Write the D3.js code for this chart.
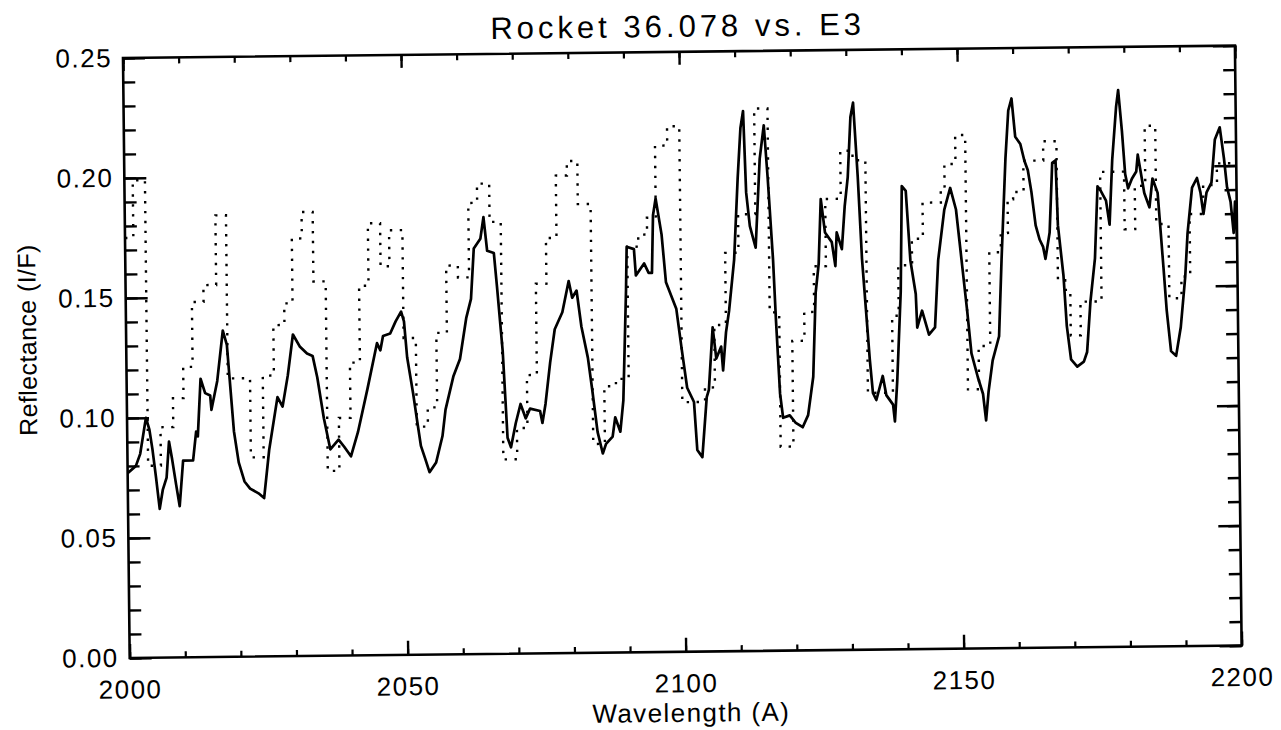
<!DOCTYPE html>
<html>
<head>
<meta charset="utf-8">
<script src="https://cdn.jsdelivr.net/npm/d3@7"></script>
<style>
  html, body { margin: 0; padding: 0; background: #fff; }
  svg { display: block; }
  text { font-family: "Liberation Sans", Arial, sans-serif; fill: #000; }
</style>
</head>
<body>
<svg id="chart" width="1281" height="730"></svg>
<script>
// ---- data ----
const chartTitle = "Rocket 36.078 vs. E3";
const xTitle = "Wavelength (A)";
const yTitle = "Reflectance (I/F)";
const xTickValues = [2000, 2050, 2100, 2150, 2200];
const yTickValues = [0.00, 0.05, 0.10, 0.15, 0.20, 0.25];

// Rocket 36.078 measured spectrum (solid line)
const rocketWavelength = [
2000.0,2001.5,2002.3,2003.4,2004.0,2004.5,2005.1,2005.7,2006.3,2007.0,2007.5,2008.0,2008.7,2009.3,2010.0,2011.8,2012.4,2012.7,2013.3,2014.1,
2015.0,2015.2,2016.3,2017.4,2018.1,2019.2,2020.0,2021.0,2022.0,2023.5,2024.5,2025.5,2027.1,2028.0,2029.0,2030.0,2031.2,2032.5,2033.5,2034.3,
2035.4,2036.5,2038.0,2039.0,2040.2,2041.5,2043.3,2045.1,2045.7,2046.2,2047.5,2048.5,2049.5,2050.0,2050.5,2051.5,2052.2,2052.8,2053.5,2054.3,
2055.5,2056.7,2057.3,2058.8,2060.0,2061.2,2062.1,2062.7,2063.9,2064.5,2065.1,2066.3,2066.8,2067.7,2068.4,2069.0,2069.9,2070.8,2071.7,2072.5,
2074.3,2074.7,2075.3,2076.2,2077.1,2078.5,2079.7,2080.3,2081.1,2081.9,2083.0,2083.7,2084.6,2085.5,2086.1,2087.3,2087.8,2088.7,2089.3,2090.0,
2090.2,2091.5,2091.8,2093.3,2094.1,2094.7,2095.0,2095.5,2096.5,2097.2,2099.0,2099.9,2100.8,2102.0,2102.5,2103.4,2104.3,2104.7,2105.5,2106.1,
2107.0,2107.3,2107.9,2108.5,2109.5,2110.3,2110.9,2111.4,2111.8,2112.4,2113.4,2114.3,2115.1,2115.7,2116.5,2116.9,2117.5,2118.0,2119.2,2120.2,
2121.5,2122.5,2123.5,2124.1,2124.7,2125.2,2125.9,2127.1,2127.7,2128.0,2128.9,2129.5,2130.1,2130.7,2131.2,2131.9,2132.5,2133.1,2133.7,2134.2,
2134.8,2136.0,2136.6,2137.8,2138.1,2138.6,2139.4,2139.8,2140.5,2141.2,2142.1,2142.3,2143.2,2144.4,2145.5,2146.2,2147.4,2148.5,2149.5,2150.4,
2151.3,2152.0,2153.1,2154.0,2154.5,2155.0,2155.8,2157.0,2157.6,2158.5,2159.1,2159.7,2160.3,2161.2,2161.9,2162.5,2163.1,2163.8,2164.5,2165.1,
2165.5,2166.3,2166.9,2167.5,2167.8,2168.7,2169.2,2169.9,2171.0,2172.2,2172.8,2173.5,2174.4,2175.0,2175.6,2176.5,2177.1,2177.7,2178.5,2178.9,
2179.5,2180.0,2180.5,2181.2,2182.0,2182.3,2183.4,2184.3,2184.9,2185.8,2186.7,2187.2,2187.9,2188.8,2189.7,2190.6,2191.1,2192.0,2192.9,2193.5,
2194.0,2194.6,2195.5,2196.2,2197.1,2197.8,2198.3,2198.9,2199.4,2199.7,2200.0
];
const rocketReflectance = [
0.077,0.080,0.085,0.100,0.095,0.087,0.075,0.062,0.070,0.075,0.090,0.083,0.072,0.063,0.082,0.082,0.094,0.092,0.116,0.110,
0.109,0.103,0.115,0.136,0.130,0.094,0.081,0.073,0.070,0.068,0.066,0.086,0.108,0.104,0.117,0.134,0.129,0.126,0.125,0.116,
0.099,0.086,0.090,0.087,0.083,0.093,0.111,0.130,0.127,0.133,0.134,0.139,0.143,0.139,0.124,0.109,0.097,0.087,0.082,0.076,
0.080,0.091,0.102,0.116,0.123,0.140,0.148,0.169,0.173,0.182,0.168,0.167,0.153,0.126,0.090,0.086,0.096,0.104,0.098,0.102,
0.101,0.096,0.104,0.121,0.135,0.142,0.155,0.148,0.151,0.136,0.123,0.110,0.092,0.083,0.087,0.090,0.098,0.092,0.105,0.151,
0.169,0.168,0.157,0.162,0.158,0.158,0.182,0.189,0.174,0.154,0.143,0.126,0.110,0.104,0.084,0.081,0.106,0.109,0.135,0.122,
0.127,0.117,0.133,0.142,0.163,0.197,0.218,0.225,0.191,0.177,0.168,0.205,0.219,0.197,0.163,0.138,0.107,0.097,0.098,0.095,
0.093,0.098,0.114,0.149,0.161,0.188,0.174,0.170,0.160,0.174,0.167,0.185,0.197,0.222,0.228,0.197,0.163,0.142,0.121,0.107,
0.104,0.114,0.106,0.102,0.095,0.112,0.149,0.193,0.191,0.162,0.148,0.134,0.141,0.131,0.134,0.162,0.183,0.192,0.183,0.162,
0.141,0.123,0.113,0.106,0.095,0.107,0.120,0.130,0.162,0.204,0.224,0.229,0.213,0.210,0.203,0.199,0.190,0.176,0.170,0.167,
0.162,0.173,0.202,0.203,0.176,0.155,0.134,0.120,0.117,0.119,0.123,0.144,0.162,0.192,0.190,0.186,0.176,0.203,0.225,0.232,
0.215,0.197,0.191,0.195,0.198,0.205,0.189,0.183,0.195,0.189,0.158,0.140,0.123,0.121,0.133,0.154,0.172,0.191,0.195,0.189,
0.180,0.189,0.193,0.211,0.216,0.203,0.191,0.185,0.172,0.185,0.170
];

// E3 model spectrum (dotted, stepped)
const e3Wavelength = [
2000.0,2001.5,2003.7,2006.0,2008.3,2010.2,2011.9,2014.0,2016.3,2018.2,2022.2,2024.5,2026.5,2028.5,2030.0,2031.8,2033.8,2036.0,2038.1,2040.2,
2042.0,2043.7,2045.9,2047.5,2049.9,2052.1,2054.1,2055.8,2057.7,2059.8,2061.8,2063.4,2065.6,2067.6,2070.1,2072.0,2073.8,2075.7,2077.6,2079.6,
2081.5,2083.8,2085.9,2088.0,2090.3,2092.3,2093.9,2095.5,2097.7,2099.9,2104.0,2105.8,2107.9,2110.3,2113.4,2115.8,2117.5,2119.8,2122.0,2123.8,
2126.0,2128.8,2131.0,2133.3,2137.8,2139.0,2141.5,2143.5,2146.8,2147.5,2149.5,2151.3,2153.3,2155.4,2157.5,2158.8,2159.8,2161.7,2165.3,2167.7,
2169.0,2169.9,2171.7,2175.5,2179.8,2181.7,2183.6,2185.5,2187.7,2189.9,2191.5,2194.0,2196.5,2200.0
];
const e3Reflectance = [
0.175,0.199,0.080,0.096,0.108,0.121,0.148,0.155,0.184,0.116,0.083,0.117,0.138,0.147,0.174,0.185,0.156,0.077,0.099,0.122,
0.154,0.180,0.162,0.177,0.132,0.095,0.103,0.134,0.162,0.157,0.188,0.196,0.180,0.081,0.094,0.116,0.154,0.173,0.199,0.205,
0.187,0.087,0.111,0.114,0.169,0.174,0.181,0.211,0.219,0.104,0.110,0.136,0.166,0.182,0.226,0.141,0.085,0.129,0.141,0.160,
0.188,0.208,0.204,0.107,0.139,0.160,0.171,0.186,0.191,0.202,0.214,0.108,0.126,0.165,0.173,0.187,0.190,0.203,0.211,0.153,
0.149,0.130,0.144,0.198,0.174,0.192,0.217,0.176,0.145,0.154,0.180,0.192,0.201,0.201
];

// ---- layout ----
const W = 1281, H = 730;
const plot = { left: 123, top: 58, width: 1112, height: 600 };
const scanTilt = -0.64; // the reference scan is slightly rotated

const svg = d3.select("#chart");
svg.append("rect").attr("width", W).attr("height", H).attr("fill", "#fff");
const root = svg.append("g").attr("transform", `rotate(${scanTilt},${plot.left},${plot.top})`);

const x = d3.scaleLinear().domain([2000, 2200]).range([plot.left, plot.left + plot.width]);
const y = d3.scaleLinear().domain([0, 0.25]).range([plot.top + plot.height, plot.top]);

// clip
root.append("clipPath").attr("id", "clip").append("rect")
  .attr("x", plot.left).attr("y", plot.top).attr("width", plot.width).attr("height", plot.height);

// axes helpers
function styleAxis(g, sw) {
  g.select(".domain").remove();
  g.selectAll(".tick line").attr("stroke", "#000").attr("stroke-width", sw);
  g.selectAll(".tick text").attr("font-size", 26).attr("font-family", '"Liberation Sans", Arial, sans-serif')
    .attr("letter-spacing", 1.5).attr("fill", "#000");
}
const minorX = d3.range(2000, 2201, 10);
const minorY = d3.range(0, 26, 1).map(d => d / 100);

// bottom
root.append("g").attr("transform", `translate(0,${plot.top + plot.height})`)
  .call(d3.axisBottom(x).tickValues(minorX).tickSize(-6).tickFormat(""))
  .call(g => styleAxis(g, 2.2));
root.append("g").attr("transform", `translate(0,${plot.top + plot.height})`)
  .call(d3.axisBottom(x).tickValues(xTickValues).tickSize(-14).tickPadding(22).tickFormat(d3.format("d")))
  .call(g => styleAxis(g, 2.4));
// top
root.append("g").attr("transform", `translate(0,${plot.top})`)
  .call(d3.axisTop(x).tickValues(minorX).tickSize(-6).tickFormat(""))
  .call(g => styleAxis(g, 2.2));
root.append("g").attr("transform", `translate(0,${plot.top})`)
  .call(d3.axisTop(x).tickValues(xTickValues).tickSize(-13).tickFormat(""))
  .call(g => styleAxis(g, 2.4));
// left
root.append("g").attr("transform", `translate(${plot.left},0)`)
  .call(d3.axisLeft(y).tickValues(minorY).tickSize(-12).tickFormat(""))
  .call(g => styleAxis(g, 2.4));
root.append("g").attr("transform", `translate(${plot.left},0)`)
  .call(d3.axisLeft(y).tickValues(yTickValues).tickSize(-22).tickPadding(11).tickFormat(d3.format(".2f")))
  .call(g => styleAxis(g, 2.4));
// right
root.append("g").attr("transform", `translate(${plot.left + plot.width},0)`)
  .call(d3.axisRight(y).tickValues(minorY).tickSize(-12).tickFormat(""))
  .call(g => styleAxis(g, 2.4));
root.append("g").attr("transform", `translate(${plot.left + plot.width},0)`)
  .call(d3.axisRight(y).tickValues(yTickValues).tickSize(-22).tickFormat(""))
  .call(g => styleAxis(g, 2.4));

// frame
root.append("rect")
  .attr("x", plot.left).attr("y", plot.top).attr("width", plot.width).attr("height", plot.height)
  .attr("fill", "none").attr("stroke", "#000").attr("stroke-width", 2.6);

// series
const rocket = rocketWavelength.map((w, i) => [w, rocketReflectance[i]]);
const e3 = e3Wavelength.map((w, i) => [w, e3Reflectance[i]]);

const lines = root.append("g").attr("clip-path", "url(#clip)");
lines.append("path")
  .datum(e3)
  .attr("fill", "none").attr("stroke", "#000").attr("stroke-width", 2.4)
  .attr("stroke-dasharray", "2.4,7.5")
  .attr("d", d3.line().x(d => x(d[0])).y(d => y(d[1])).curve(d3.curveStepAfter));
lines.append("path")
  .datum(rocket)
  .attr("fill", "none").attr("stroke", "#000").attr("stroke-width", 2.7)
  .attr("stroke-linejoin", "round")
  .attr("d", d3.line().x(d => x(d[0])).y(d => y(d[1])).curve(d3.curveLinear));

// titles
root.append("text").attr("x", plot.left + plot.width / 2 - 1).attr("y", 43)
  .attr("text-anchor", "middle").attr("font-size", 31).attr("letter-spacing", 4)
  .text(chartTitle);
root.append("text").attr("x", plot.left + plot.width / 2 + 5).attr("y", 728)
  .attr("text-anchor", "middle").attr("font-size", 26).attr("letter-spacing", 1.4)
  .text(xTitle);
root.append("text").attr("transform", `translate(33,339) rotate(-90)`)
  .attr("text-anchor", "middle").attr("font-size", 25).attr("letter-spacing", 0.4)
  .text(yTitle);
</script>
</body>
</html>
